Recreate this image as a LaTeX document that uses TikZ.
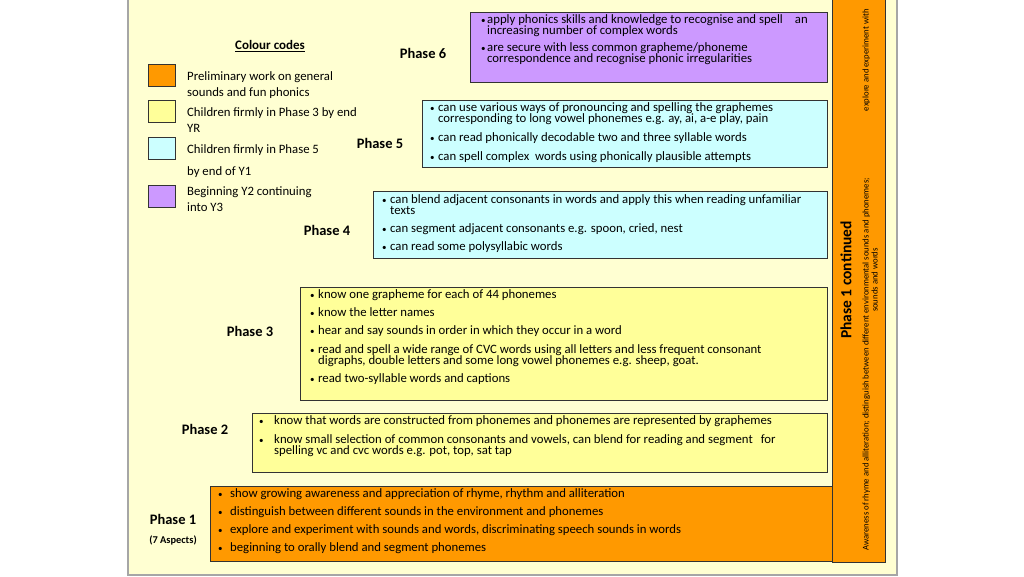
\documentclass[tikz,border=0pt]{standalone}
\usepackage{fontspec}
\setmainfont{Carlito}
\definecolor{slidebg}{HTML}{FFFFD2}
\definecolor{slideline}{HTML}{A6A6A6}
\definecolor{orng}{HTML}{FF9900}
\definecolor{yell}{HTML}{FFFF99}
\definecolor{cyn}{HTML}{CCFFFF}
\definecolor{purp}{HTML}{CC99FF}
\definecolor{edge}{HTML}{333333}
\tikzset{
  box/.style={draw=edge, line width=0.8pt},
  phase/.style={font=\fontsize{14.5}{16}\selectfont\bfseries, inner sep=0pt},
  txt/.style={anchor=base west, inner sep=0pt, font=\fontsize{12.75}{13}\selectfont},
  bul/.style={anchor=base west, inner sep=0pt, font=\fontsize{9}{10}\selectfont},
  leg/.style={anchor=base west, inner sep=0pt, font=\fontsize{12.75}{13}\selectfont},
  vsmall/.style={rotate=90, inner sep=0pt, font=\fontsize{8.7}{9}\selectfont},
  sw/.style={draw=edge, line width=0.6pt},
}
% \Item{name}{bulletx}{textx}{y}{text}
\newcommand{\Item}[5]{%
  \node[bul] (#1b) at (#2,#4+3) {•};
  \node[txt] (#1) at (#3,#4+3.5) {#5};}
\newcommand{\Cont}[4]{%
  \node[txt] (#1) at (#2,#3+3.5) {#4};}
\begin{document}
\begin{tikzpicture}[x=1pt,y=-1pt]
\useasboundingbox (0,0) rectangle (1024,576);
\fill[white] (0,0) rectangle (1024,576);
% slide
\draw[fill=slidebg, draw=slideline, line width=1.5pt] (128,-2) rectangle (897,575);

% legend
\node[inner sep=0pt, font=\fontsize{13}{14}\selectfont\bfseries] (cctitle) at (270,46) {\underline{Colour codes}};
\draw[sw, fill=orng] (148,64) rectangle (175,86);
\draw[sw, fill=yell] (148,100) rectangle (175,122);
\draw[sw, fill=cyn] (148,137) rectangle (175,159);
\draw[sw, fill=purp] (148,185) rectangle (175,207);
\node[leg] (l1a) at (187,80) {Preliminary work on general};
\node[leg] (l1b) at (187,96) {sounds and fun phonics};
\node[leg] (l2a) at (187,116) {Children firmly in Phase 3 by end};
\node[leg] (l2b) at (187,132) {YR};
\node[leg] (l3a) at (187,153) {Children firmly in Phase 5};
\node[leg] (l3b) at (187,175) {by end of Y1};
\node[leg] (l4a) at (187,195) {Beginning Y2 continuing};
\node[leg] (l4b) at (187,211) {into Y3};

% Phase 6
\draw[box, fill=purp] (470,12) rectangle (827,82);
\node[phase] (p6) at (423,53) {Phase 6};
\Item{p6i1}{481}{487}{20}{apply phonics skills and knowledge to recognise and spell\hspace{12pt}an}
\Cont{p6i1c}{487}{31}{increasing number of complex words}
\Item{p6i2}{481}{487}{48}{are secure with less common grapheme/phoneme}
\Cont{p6i2c}{487}{59}{correspondence and recognise phonic irregularities}

% Phase 5
\draw[box, fill=cyn] (422,100) rectangle (827,167);
\node[phase] (p5) at (380,143) {Phase 5};
\Item{p5i1}{430}{438}{108}{can use various ways of pronouncing and spelling the graphemes}
\Cont{p5i1c}{438}{119}{corresponding to long vowel phonemes e.g. ay, ai, a-e play, pain}
\Item{p5i2}{430}{438}{138}{can read phonically decodable two and three syllable words}
\Item{p5i3}{430}{438}{157}{can spell complex\ \ words using phonically plausible attempts}

% Phase 4
\draw[box, fill=cyn] (373,191) rectangle (827,258);
\node[phase] (p4) at (327,230) {Phase 4};
\Item{p4i1}{382}{390}{200}{can blend adjacent consonants in words and apply this when reading unfamiliar}
\Cont{p4i1c}{390}{211}{texts}
\Item{p4i2}{382}{390}{229}{can segment adjacent consonants e.g. spoon, cried, nest}
\Item{p4i3}{382}{390}{247}{can read some polysyllabic words}

% Phase 3
\draw[box, fill=yell] (300,287) rectangle (827,400);
\node[phase] (p3) at (250,331) {Phase 3};
\Item{p3i1}{310}{318}{295}{know one grapheme for each of 44 phonemes}
\Item{p3i2}{310}{318}{313}{know the letter names}
\Item{p3i3}{310}{318}{331}{hear and say sounds in order in which they occur in a word}
\Item{p3i4}{310}{318}{350}{read and spell a wide range of CVC words using all letters and less frequent consonant}
\Cont{p3i4c}{318}{361}{digraphs, double letters and some long vowel phonemes e.g. sheep, goat.}
\Item{p3i5}{310}{318}{379}{read two-syllable words and captions}

% Phase 2
\draw[box, fill=yell] (252,413) rectangle (827,472);
\node[phase] (p2) at (205,429) {Phase 2};
\Item{p2i1}{259}{274}{421}{know that words are constructed from phonemes and phonemes are represented by graphemes}
\Item{p2i2}{259}{274}{440}{know small selection of common consonants and vowels, can blend for reading and segment\hspace{8pt}for}
\Cont{p2i2c}{274}{451}{spelling vc and cvc words e.g. pot, top, sat tap}

% Phase 1
\draw[box, fill=orng] (210,486) rectangle (832,561);
\node[phase] (p1) at (173,519) {Phase 1};
\node[inner sep=0pt, font=\fontsize{10.4}{11}\selectfont\bfseries] (p1s) at (173,540) {(7 Aspects)};
\Item{p1i1}{218}{230}{494}{show growing awareness and appreciation of rhyme, rhythm and alliteration}
\Item{p1i2}{218}{230}{512}{distinguish between different sounds in the environment and phonemes}
\Item{p1i3}{218}{230}{530}{explore and experiment with sounds and words, discriminating speech sounds in words}
\Item{p1i4}{218}{230}{548}{beginning to orally blend and segment phonemes}

% Phase 1 continued
\draw[box, fill=orng] (832,-2) rectangle (885,562);
\node[phase, rotate=90, font=\fontsize{15.5}{17}\selectfont\bfseries] (p1c) at (846,280) {Phase 1 continued};
\node[vsmall, anchor=base west] (v1) at (868.5,551) {Awareness of rhyme and alliteration; distinguish between different environmental sounds and phonemes;};
\node[vsmall, anchor=base east] (v2) at (868.5,9) {explore and experiment with};
\node[vsmall, anchor=base] (v3) at (877.5,280) {sounds and words};
\end{tikzpicture}
\end{document}
